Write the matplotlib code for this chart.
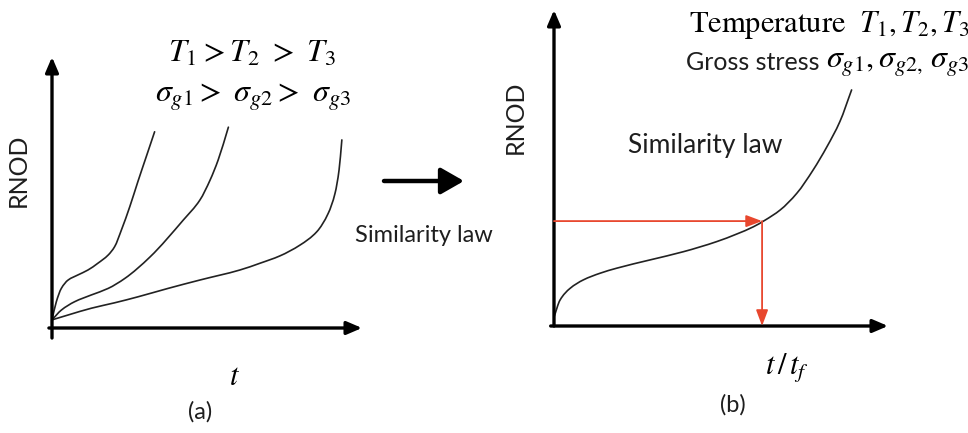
"""
RNOD curves at three temperature / stress levels, collapsed onto one
master curve by the similarity law.
"""

import numpy as np
import matplotlib.pyplot as plt
from matplotlib.path import Path
from matplotlib.patches import PathPatch

plt.rcParams['mathtext.fontset'] = 'stix'
plt.rcParams['font.family'] = ['Lato', 'DejaVu Sans']

W, H = 968, 433

#
#  Curves in panel (a): time t against RNOD (both on a 0-10 scale)
#

t_1 = [0, 0.14, 0.30, 0.52, 0.84, 1.16, 1.48, 1.81, 2.02, 2.24, 2.51, 2.77, 3.04, 3.31]
rnod_1 = [0.3, 0.97, 1.46, 1.77, 1.96, 2.14, 2.39, 2.69, 3.0, 3.62, 4.48, 5.40, 6.32, 7.24]

t_2 = [0, 0.30, 0.73, 1.27, 1.81, 2.35, 3.16, 4.24, 4.77, 5.10, 5.36, 5.69]
rnod_2 = [0.3, 0.66, 0.97, 1.22, 1.46, 1.83, 2.62, 3.99, 4.72, 5.46, 6.20, 7.41]

t_3 = [0, 0.52, 1.27, 2.02, 2.77, 3.74, 4.77, 6.06, 6.71, 7.35, 8.0, 8.54, 8.91, 9.13, 9.26, 9.35]
rnod_3 = [0.3, 0.48, 0.73, 0.93, 1.15, 1.46, 1.77, 2.14, 2.39, 2.66, 3.06, 3.55, 4.23, 4.97, 5.83, 6.94]

#
#  Master curve in panel (b): t/t_f against RNOD
#

tr_b = [0, 0.18, 0.48, 0.88, 1.38, 1.88, 2.87, 3.87, 4.87, 5.47, 5.97, 6.32, 6.77, 7.27, 7.76, 8.17, 8.56, 8.91]
rnod_b = [0.28, 0.82, 1.19, 1.46, 1.67, 1.83, 2.09, 2.35, 2.67, 2.91, 3.14, 3.35, 3.67, 4.2, 4.94, 5.67, 6.47, 7.47]

#  Reading point on the master curve
tr_mark = 6.23
rnod_mark = 3.32

RED = '#e8472e'
INK = '#1e1e1e'


def fx(px):
    return px / W


def fy(py):
    return 1 - py / H


def smooth_path(x, y):
    """Monotone cubic (Fritsch-Carlson) through the points, as Bezier segments."""
    x = np.asarray(x, float)
    y = np.asarray(y, float)
    h = np.diff(x)
    d = np.diff(y) / h
    m = np.empty_like(x)
    m[0], m[-1] = d[0], d[-1]
    for k in range(1, len(x) - 1):
        if d[k - 1] * d[k] <= 0:
            m[k] = 0.0
        else:
            w1 = 2 * h[k] + h[k - 1]
            w2 = h[k] + 2 * h[k - 1]
            m[k] = (w1 + w2) / (w1 / d[k - 1] + w2 / d[k])
    verts = [(x[0], y[0])]
    codes = [Path.MOVETO]
    for i in range(len(h)):
        verts += [(x[i] + h[i] / 3, y[i] + m[i] * h[i] / 3),
                  (x[i + 1] - h[i] / 3, y[i + 1] - m[i + 1] * h[i] / 3),
                  (x[i + 1], y[i + 1])]
        codes += [Path.CURVE4] * 3
    return Path(verts, codes)


def draw_curve(ax, x, y):
    ax.add_patch(PathPatch(smooth_path(x, y), facecolor='none',
                           edgecolor='#222222', lw=1.2, capstyle='round',
                           clip_on=False))


def draw_axes(ax, y_low=0.0):
    arrow = dict(arrowstyle='-|>,head_length=0.7,head_width=0.3', lw=2.4,
                 color='black', shrinkA=0, shrinkB=0, mutation_scale=13)
    ax.annotate('', xy=(10, 0), xytext=(-0.1, 0), arrowprops=arrow,
                annotation_clip=False)
    ax.annotate('', xy=(0, 10), xytext=(0, y_low), arrowprops=arrow,
                annotation_clip=False)
    ax.set_xlim(0, 10)
    ax.set_ylim(0, 10)
    ax.axis('off')


fig = plt.figure(figsize=(W / 100, H / 100), dpi=100)
fig.patch.set_facecolor('white')

#
#  Panel (a)
#

ax_a = fig.add_axes([fx(52), fy(328), 310 / W, 271 / H])
draw_axes(ax_a, y_low=-0.37)
for t, r in [(t_1, rnod_1), (t_2, rnod_2), (t_3, rnod_3)]:
    draw_curve(ax_a, t, r)

#
#  Panel (b)
#

ax_b = fig.add_axes([fx(554), fy(326), 334 / W, 316 / H])
draw_axes(ax_b)
draw_curve(ax_b, tr_b, rnod_b)

red_arrow = dict(arrowstyle='-|>,head_length=0.8,head_width=0.3', lw=1.3,
                 color=RED, shrinkA=0, shrinkB=0, mutation_scale=12)
ax_b.annotate('', xy=(tr_mark, rnod_mark), xytext=(0, rnod_mark),
              arrowprops=red_arrow)
ax_b.annotate('', xy=(tr_mark, 0), xytext=(tr_mark, rnod_mark),
              arrowprops=red_arrow)

#
#  Arrow between the panels
#

ax_a.annotate('', xy=(fx(464), fy(181)), xytext=(fx(384), fy(181)),
              xycoords='figure fraction', textcoords='figure fraction',
              arrowprops=dict(arrowstyle='-|>,head_length=0.7,head_width=0.4',
                              lw=3.2, color='black', shrinkA=0, shrinkB=0,
                              mutation_scale=20))

#
#  Labels
#

fig.text(fx(18), fy(170), 'RNOD', rotation=90, fontsize=18,
         ha='center', va='center', color=INK)
fig.text(fx(515), fy(117), 'RNOD', rotation=90, fontsize=18,
         ha='center', va='center', color=INK)

fig.text(fx(252), fy(53), r'$T_1 > T_2\ > \ T_3$', fontsize=23,
         ha='center', va='center')
fig.text(fx(253), fy(97), r'$\sigma_{g1} > \ \sigma_{g2} > \ \sigma_{g3}$',
         fontsize=23, ha='center', va='center')

fig.text(fx(235), fy(376), r'$t$', fontsize=22, ha='center', va='center')
fig.text(fx(787), fy(368), r'$t\,/\,t_f$', fontsize=22, ha='center',
         va='center')

fig.text(fx(200), fy(412), '(a)', fontsize=17, ha='center', va='center',
         color=INK)
fig.text(fx(733), fy(405), '(b)', fontsize=17, ha='center', va='center',
         color=INK)

fig.text(fx(424), fy(235), 'Similarity law', fontsize=17, ha='center',
         va='center', color=INK)
fig.text(fx(705), fy(145), 'Similarity law', fontsize=19, ha='center',
         va='center', color=INK)

fig.text(fx(689), fy(25), r'$\mathrm{Temperature}\ \ T_1,T_2,T_3$',
         fontsize=22, ha='left', va='center')
fig.text(fx(686), fy(63), 'Gross stress', fontsize=18, ha='left',
         va='center', color=INK)
fig.text(fx(826), fy(64), r'$\sigma_{g1},\sigma_{g2,}\,\sigma_{g3}$',
         fontsize=23, ha='left', va='center')

fig.savefig('out.png', dpi=100)
